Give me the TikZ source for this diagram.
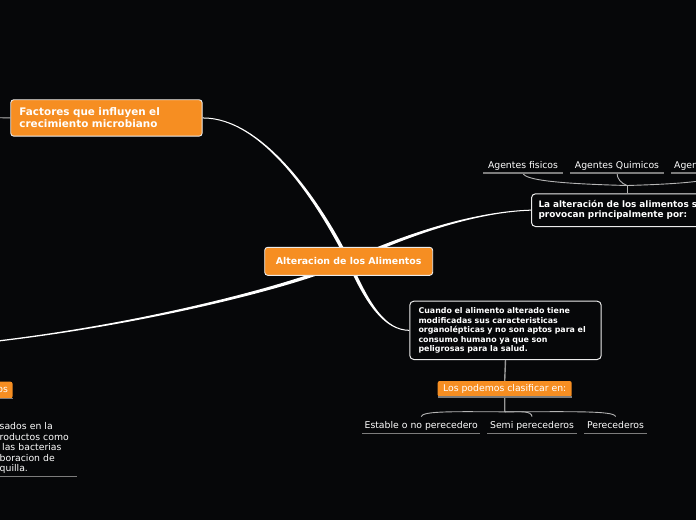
\documentclass[tikz,border=0pt]{standalone}
\usepackage{fontspec}
\setmainfont{DejaVu Sans}
\usetikzlibrary{calc}
\definecolor{bgc}{HTML}{060709}
\definecolor{orc}{HTML}{F68E22}
\definecolor{brc}{HTML}{B4B4B4}
\definecolor{ulc}{HTML}{7C7C7C}
\pgfdeclarelayer{back}
\pgfdeclarelayer{links}
\pgfsetlayers{back,links,main}
\newcommand\tapercurve[6]{%
\fill[white] ($#1!#5!90:#2$) .. controls ($#2!#5!-90:#1$) and ($#3!#6!90:#4$) .. ($#4!#6!-90:#3$) -- ($#4!#6!90:#3$) .. controls ($#3!#6!-90:#4$) and ($#2!#5!90:#1$) .. ($#1!#5!-90:#2$) -- cycle;}
\newcommand\regfont{\fontsize{9.3}{10.35}\selectfont}
\begin{document}
\begin{tikzpicture}[x=1pt,y=-1pt,
  orangebox/.style={fill=orc, draw=white!92!black, line width=0.9pt, rounded corners=3pt, text=white},
  blackbox/.style={fill=bgc, draw=white!92!black, line width=1pt, rounded corners=4pt, text=white},
  flatbox/.style={fill=orc, rounded corners=2pt, text=white, font=\regfont},
  ulnode/.style={inner sep=0pt, text height=12pt, text depth=4.6pt, text=white, font=\regfont, anchor=base},
  uline/.style={draw=ulc, line width=1.3pt},
  brline/.style={draw=brc, line width=0.9pt},
  vline/.style={draw=ulc!80!white, line width=1.4pt}]
\begin{pgfonlayer}{back}
\fill[bgc] (0,0) rectangle (696,520);
\end{pgfonlayer}
\useasboundingbox (0,0) rectangle (696,520);

% nodes
\node[orangebox, anchor=north west, text width=174pt, inner xsep=8.7pt, minimum height=36.4pt,
  font=\fontsize{10.4}{11.7}\selectfont\bfseries, align=left] (fac) at (10.3,99.3)
  {Factores que influyen el\\crecimiento microbiano};
\node[orangebox, minimum width=168pt, minimum height=28pt, inner sep=0pt,
  font=\fontsize{9.4}{11}\selectfont\bfseries] (cen) at (348.7,261.3) {Alteracion de los Alimentos};
\node[blackbox, anchor=north west, text width=220pt, inner xsep=7pt, minimum height=32.7pt,
  font=\fontsize{8.9}{10}\selectfont\bfseries, align=left] (alt) at (531,193.3)
  {La alteración de los alimentos se\\provocan principalmente por:};
\node[blackbox, anchor=north west, text width=174pt, inner xsep=8.7pt, minimum height=58.3pt,
  font=\fontsize{7.9}{9.5}\selectfont\bfseries, align=left] (cua) at (409.3,300.7)
  {Cuando el alimento alterado tiene\\modificadas sus caracteristicas\\organolépticas y no son aptos para el\\consumo humano ya que son\\peligrosas para la salud.};
\node[flatbox, minimum width=134pt, minimum height=15.7pt, inner sep=0pt] (cla) at (504.7,388.9) {Los podemos clasificar en:};
\node[flatbox, anchor=east, minimum height=16.6pt, inner xsep=4.5pt, inner ysep=0pt] (os) at (12.7,390) {os};

\node[ulnode, minimum width=117.7pt] (est) at (421.2,428.8) {Estable o no perecedero};
\node[ulnode, minimum width=89.4pt] (semi) at (532,428.8) {Semi perecederos};
\node[ulnode, minimum width=62.4pt] (per) at (615.5,428.8) {Perecederos};
\node[ulnode, minimum width=79.4pt] (fis) at (523,168.1) {Agentes fisicos};
\node[ulnode, minimum width=94pt] (qui) at (617,168.1) {Agentes Quimicos};
\node[ulnode, anchor=base west, text width=94pt, inner xsep=3pt, align=left] (bio) at (671,168.1) {Agentes};

\node[anchor=north west, inner xsep=0pt, inner ysep=2.7pt, text width=77.2pt, align=left, text=white, font=\regfont] (bl) at (-0.5,420)
  {sados en la\\roductos como\\\hspace*{2.5pt}las bacterias\\boracion de\\quilla.};

% underlines
\foreach \n in {est,semi,per,fis,qui,bio,bl,cla,os}{
  \draw[uline] (\n.south west) -- (\n.south east);
}

\coordinate (offL) at (-40,345);
\coordinate (offF) at (-12,117.5);
\coordinate (altJ) at (627,185.5);
\coordinate (claJ) at (504.8,411.8);

\begin{pgfonlayer}{links}
\tapercurve{(cen.center)}{(318,200)}{(262,117.5)}{(fac.east)}{1.8pt}{0.5pt}
\tapercurve{(cen.center)}{(368,305)}{(385,330)}{(cua.west)}{1.8pt}{0.5pt}
\tapercurve{(cen.center)}{(400,238)}{(470,212)}{(alt.west)}{1.8pt}{0.5pt}
\tapercurve{(cen.center)}{(290,288)}{(120,330)}{(offL)}{1.8pt}{0.6pt}
\draw[brline] (fac.west) -- (offF);
\draw[vline] (cua.south) -- (cla.north);
\draw[vline] (cla.south) -- (claJ);
\draw[brline] (claJ) .. controls (460,411.8) and (422,410.5) .. (est.north);
\draw[brline] (claJ) .. controls (520,411.8) and (531.5,410.5) .. (semi.north);
\draw[brline] (claJ) .. controls (570,411.8) and (615,410.5) .. (per.north);
\draw[brline] ([xshift=96pt]alt.north west) -- (altJ);
\draw[brline] (altJ) .. controls (570,184) and (523.5,181) .. (fis.south);
\draw[brline] (altJ) .. controls (621,183) and (617,179) .. (qui.south);
\draw[brline] (altJ) .. controls (680,184) and (721,181) .. (bio.south);
\end{pgfonlayer}
\end{tikzpicture}
\end{document}
